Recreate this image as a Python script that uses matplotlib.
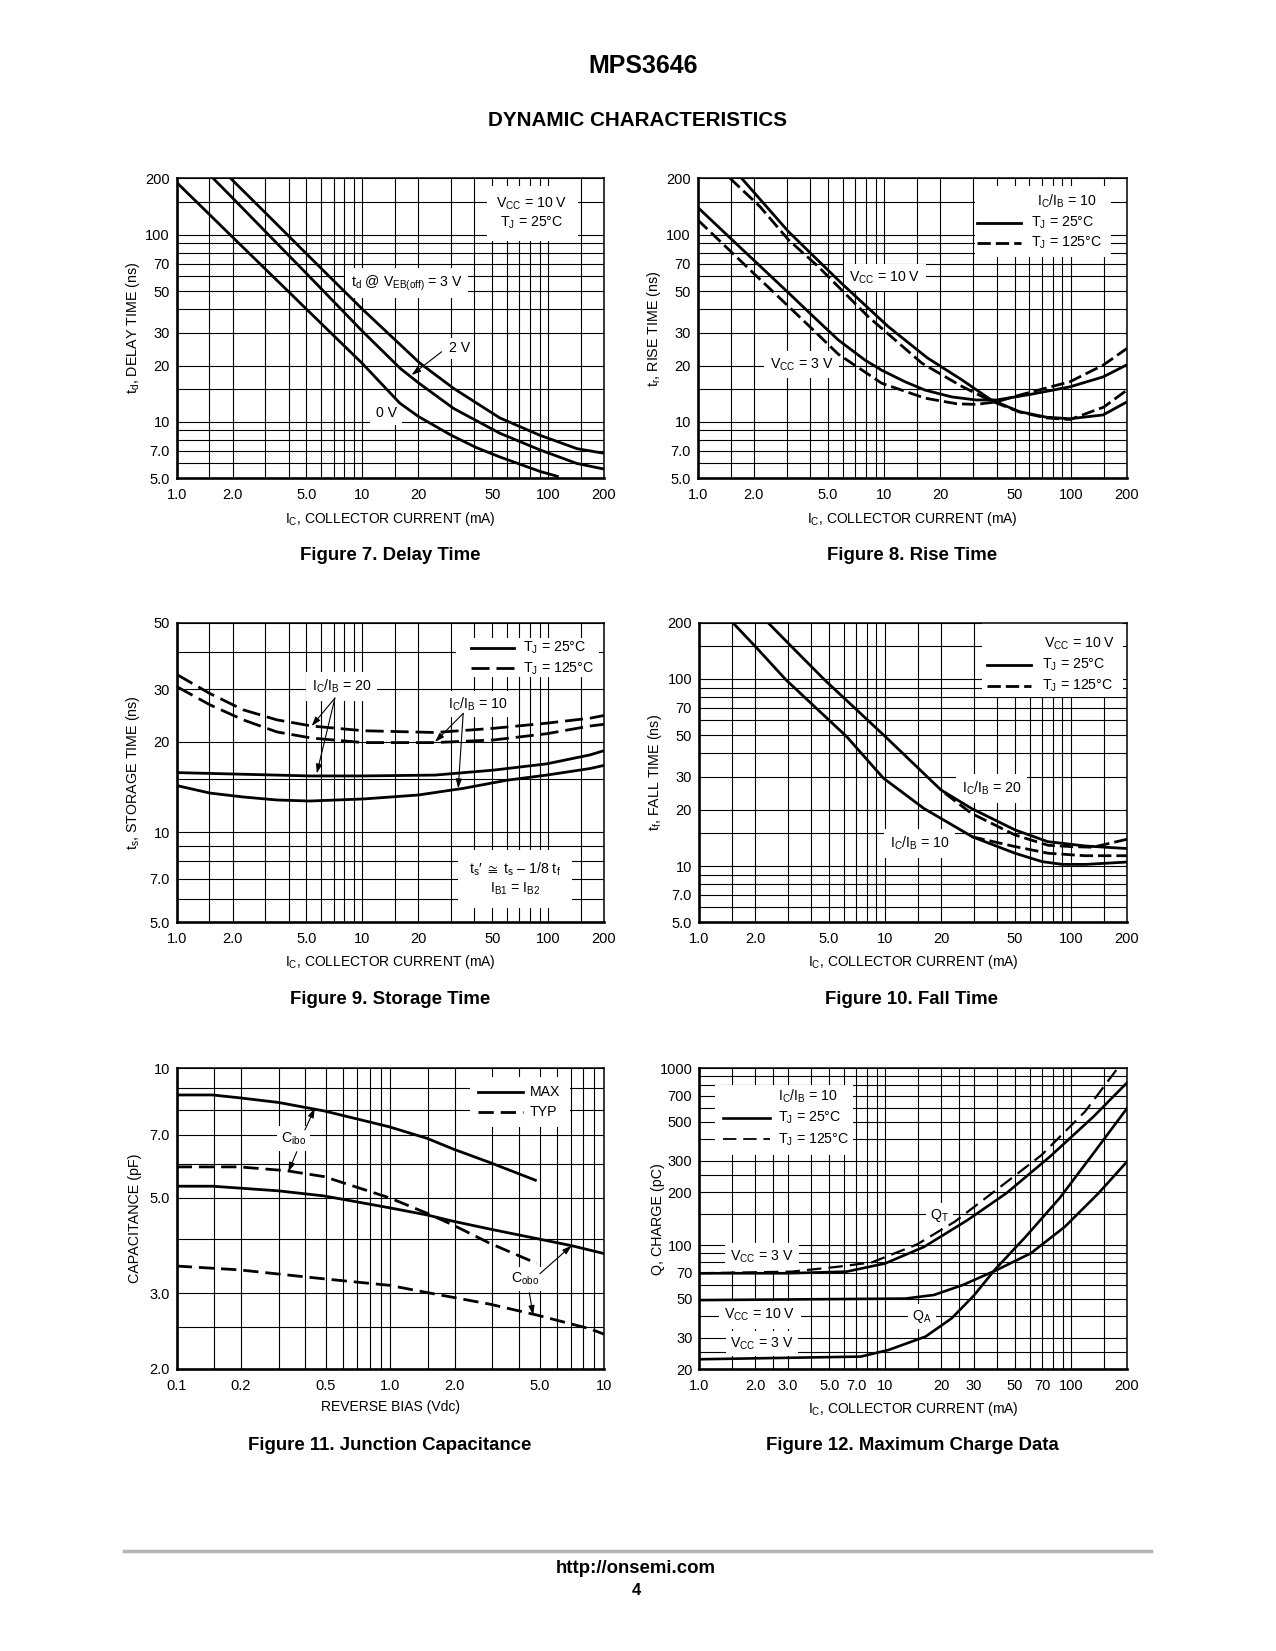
import matplotlib
matplotlib.use('Agg')
import matplotlib.pyplot as plt
from matplotlib.ticker import FixedLocator, FixedFormatter, NullFormatter
from matplotlib.patches import Rectangle
from matplotlib.lines import Line2D

FONT = 'Liberation Sans'
plt.rcParams['font.family'] = [FONT, 'DejaVu Sans']
plt.rcParams['mathtext.fontset'] = 'custom'
plt.rcParams['mathtext.rm'] = FONT
plt.rcParams['mathtext.it'] = FONT
plt.rcParams['mathtext.bf'] = FONT + ':bold'
plt.rcParams['mathtext.default'] = 'regular'
plt.rcParams['mathtext.fallback'] = 'stixsans'

# Figure 7 - delay time
ic_td_0v = [1.0, 2.0, 5.0, 10, 15.9, 20, 30, 41, 55, 90, 114]
td_0v = [190, 97, 40, 20.5, 12.6, 10.7, 8.5, 7.3, 6.5, 5.45, 5.1]
ic_td_2v = [1.57, 2.0, 3.0, 5.0, 10, 16, 20, 31, 55, 90, 143, 200]
td_2v = [200, 157, 104, 62, 30.5, 19.3, 16.2, 11.8, 8.7, 7.1, 6.0, 5.6]
ic_td_3v = [1.95, 3.0, 5.0, 10, 20.4, 31, 55, 90, 143, 200]
td_3v = [200, 131, 79, 40, 20.6, 15.1, 10.5, 8.5, 7.2, 6.8]

# Figure 8 - rise time
ic_tr_10v_25 = [1.72, 3.06, 5.9, 10.5, 17, 26, 37, 53, 74, 99, 149, 200]
tr_10v_25 = [200, 104, 55, 32.3, 22, 16.8, 13.2, 11.35, 10.6, 10.4, 10.9, 12.8]
ic_tr_10v_125 = [1.49, 2.16, 3.06, 4.43, 8.2, 15.9, 26, 37, 53, 74, 99, 150, 200]
tr_10v_125 = [200, 141, 94, 67.5, 36.5, 20.6, 15.5, 13.0, 11.3, 10.5, 10.3, 12.0, 14.8]
ic_tr_3v_25 = [1.0, 1.5, 2.0, 3.06, 4.16, 5.67, 7.88, 9.68, 12.9, 16.5, 23, 31, 40, 60, 99, 149, 200]
tr_3v_25 = [140, 95.6, 73, 49, 36.6, 27.4, 21.4, 18.9, 16.4, 14.8, 13.6, 13.1, 13.1, 14.0, 15.4, 17.4, 20.2]
ic_tr_3v_125 = [1.0, 2.0, 3.06, 4.16, 5.67, 9.68, 16.5, 24.5, 31, 40, 53, 99, 149, 200]
tr_3v_125 = [120, 62, 41.5, 31, 23, 16.1, 13.4, 12.5, 12.4, 12.8, 13.9, 16.4, 20.1, 24.7]

# Figure 9 - storage time
ic_ts_125 = [1.0, 1.51, 2.28, 3.46, 5.33, 10.1, 24.6, 50.7, 98.3, 168, 200]
ts_20_125 = [33.6, 29.0, 25.6, 23.7, 22.6, 21.8, 21.5, 22.2, 23.1, 24.0, 24.5]
ts_10_125 = [30.6, 26.6, 23.7, 21.6, 20.6, 19.9, 19.9, 20.3, 21.3, 22.6, 22.9]
ic_ts_20_25 = [1.0, 2.28, 5.2, 10.1, 24.6, 50.7, 98.3, 168, 200]
ts_20_25 = [15.8, 15.6, 15.4, 15.4, 15.5, 16.1, 16.9, 18.1, 18.7]
ic_ts_10_25 = [1.0, 1.51, 2.28, 3.46, 5.2, 10.1, 20, 35, 60, 98.3, 168, 200]
ts_10_25 = [14.3, 13.5, 13.1, 12.8, 12.7, 12.9, 13.3, 14.0, 14.9, 15.5, 16.3, 16.7]

# Figure 10 - fall time
ic_tf_10_25 = [1.52, 2.05, 2.94, 6.22, 9.8, 16.2, 29.6, 50, 70, 90, 120, 200]
tf_10_25 = [200, 146, 98.8, 49.2, 29.5, 20.3, 14.3, 11.7, 10.55, 10.2, 10.2, 10.5]
ic_tf_20_25 = [2.35, 3.21, 4.74, 10.04, 20, 29.2, 50, 75, 119, 200]
tf_20_25 = [200, 146, 98.8, 49.2, 25.5, 20.3, 15.6, 13.5, 12.8, 12.4]
ic_tf_20_125 = [21, 29.2, 50, 75.5, 100, 131, 200]
tf_20_125 = [24.5, 19.1, 14.65, 12.9, 12.7, 12.6, 13.9]
ic_tf_10_125 = [29.2, 50, 75.5, 119, 200]
tf_10_125 = [14.35, 12.7, 11.7, 11.35, 11.35]

# Figure 11 - junction capacitance
vr_cibo_max = [0.1, 0.147, 0.196, 0.299, 0.49, 0.99, 1.49, 1.97, 2.92, 4.84]
c_cibo_max = [8.67, 8.67, 8.54, 8.33, 7.96, 7.31, 6.87, 6.49, 6.04, 5.48]
vr_cobo_max = [0.1, 0.147, 0.299, 0.49, 0.99, 1.49, 1.97, 2.92, 4.84, 7.05, 10]
c_cobo_max = [5.32, 5.32, 5.19, 5.05, 4.74, 4.56, 4.41, 4.23, 4.02, 3.87, 3.71]
vr_cibo_typ = [0.1, 0.196, 0.327, 0.49, 0.99, 1.49, 1.97, 2.92, 4.84]
c_cibo_typ = [5.9, 5.9, 5.78, 5.6, 5.0, 4.6, 4.32, 3.92, 3.52]
vr_cobo_typ = [0.1, 0.196, 0.49, 0.99, 1.49, 2.92, 4.84, 8.59, 10]
c_cobo_typ = [3.47, 3.4, 3.24, 3.13, 3.01, 2.83, 2.67, 2.48, 2.41]

# Figure 12 - maximum charge data
ic_qt_25 = [1.0, 3.0, 6.2, 10.0, 16.2, 27.8, 44.9, 77, 132, 200]
qt_25 = [69.5, 69.5, 71, 79, 98, 139, 197, 317, 533, 829]
ic_qt_125 = [1.0, 3.14, 5.6, 8.46, 14.8, 23.7, 44.1, 69.5, 119, 178]
qt_125 = [69.5, 71, 75.7, 80, 101, 136, 224, 324, 570, 1000]
ic_qa_10v = [1.0, 12.8, 18.3, 26.2, 39.8, 60.7, 92.4, 140.6, 200]
qa_10v = [49, 50, 52.4, 59.7, 72.5, 90.1, 127, 197, 297]
ic_qa_3v = [1.0, 7.4, 10.4, 16.5, 22.8, 30, 39, 57.1, 86.9, 132, 200]
qa_3v = [22.7, 23.5, 25.6, 30.5, 38.7, 52, 73, 112, 185, 331, 594]

# tick labels
ic_ticks = [1.0, 2.0, 5.0, 10, 20, 50, 100, 200]
ic_labels = ['1.0', '2.0', '5.0', '10', '20', '50', '100', '200']
t_ticks = [5, 7, 10, 20, 30, 50, 70, 100, 200]
t_labels = ['5.0', '7.0', '10', '20', '30', '50', '70', '100', '200']
ts_ticks = [5, 7, 10, 20, 30, 50]
ts_labels = ['5.0', '7.0', '10', '20', '30', '50']
vr_ticks = [0.1, 0.2, 0.5, 1.0, 2.0, 5.0, 10]
vr_labels = ['0.1', '0.2', '0.5', '1.0', '2.0', '5.0', '10']
c_ticks = [2, 3, 5, 7, 10]
c_labels = ['2.0', '3.0', '5.0', '7.0', '10']
q_ic_ticks = [1, 2, 3, 5, 7, 10, 20, 30, 50, 70, 100, 200]
q_ic_labels = ['1.0', '2.0', '3.0', '5.0', '7.0', '10', '20', '30', '50', '70', '100', '200']
q_ticks = [20, 30, 50, 70, 100, 200, 300, 500, 700, 1000]
q_labels = ['20', '30', '50', '70', '100', '200', '300', '500', '700', '1000']

W, H = 1276, 1651
fig = plt.figure(figsize=(12.76, 16.51), dpi=100)

M1 = [1, 1.5, 2, 3, 4, 5, 6, 7, 8, 9]
M2 = [1, 1.5, 2, 2.5, 3, 4, 5, 6, 7, 8, 9]
TXT = 10.2


def grid_vals(lo, hi, mant):
    out = []
    for e in range(-2, 4):
        for m in mant:
            v = round(m * 10.0 ** e, 6)
            if lo <= v <= hi:
                out.append(v)
    return out


def panel(l, t, r, b, xlim, ylim, xt, xtl, yt, ytl, xmant, ymant, xlabel, ylabel):
    ax = fig.add_axes([l / W, 1 - b / H, (r - l) / W, (b - t) / H])
    ax.set_xscale('log')
    ax.set_yscale('log')
    ax.set_xlim(xlim)
    ax.set_ylim(ylim)
    ax.xaxis.set_major_locator(FixedLocator(xt))
    ax.xaxis.set_major_formatter(FixedFormatter(xtl))
    ax.yaxis.set_major_locator(FixedLocator(yt))
    ax.yaxis.set_major_formatter(FixedFormatter(ytl))
    ax.xaxis.set_minor_locator(FixedLocator(grid_vals(xlim[0], xlim[1], xmant)))
    ax.yaxis.set_minor_locator(FixedLocator(grid_vals(ylim[0], ylim[1], ymant)))
    ax.xaxis.set_minor_formatter(NullFormatter())
    ax.yaxis.set_minor_formatter(NullFormatter())
    ax.grid(True, which='both', color='black', lw=0.8)
    ax.tick_params(which='both', length=0, labelsize=10.5)
    ax.tick_params(axis='x', pad=7)
    ax.tick_params(axis='y', pad=5)
    for s in ['left', 'bottom']:
        ax.spines[s].set_linewidth(1.9)
    for s in ['top', 'right']:
        ax.spines[s].set_linewidth(1.1)
    ax.set_xlabel(xlabel, fontsize=10)
    ax.xaxis.set_label_coords(0.5, -0.104)
    ax.set_ylabel(ylabel, fontsize=10.3)
    ax.yaxis.set_label_coords(-0.081, 0.5)
    return ax


def note(ax, x, y, s, pad=2.5, ha='center'):
    ax.text(x, y, s, ha=ha, va='center', fontsize=TXT, zorder=3,
            bbox=dict(facecolor='white', edgecolor='none', pad=pad))


def arrow(ax, src, dst):
    ax.annotate('', xy=dst, xytext=src, zorder=5,
                arrowprops=dict(arrowstyle='-|>,head_length=0.55,head_width=0.18',
                                color='black', lw=0.8, shrinkA=0, shrinkB=0))


def white_box(ax, x0, x1, y0, y1):
    ax.add_patch(Rectangle((x0, y0), x1 - x0, y1 - y0, facecolor='white',
                           edgecolor='none', zorder=2.5))


def caption(x, y, s):
    fig.text(x / W, 1 - y / H, s, ha='center', va='center', fontsize=13.4,
             fontweight='bold', family=FONT)


SOLID = dict(color='black', lw=2.0, solid_capstyle='butt', zorder=4)
DASH = dict(color='black', lw=2.0, ls=(0, (4.8, 1.8)), zorder=4)
ic_label = 'I$_C$, COLLECTOR CURRENT (mA)'

# ---------- Figure 7
ax = panel(176.7, 178.3, 604, 478.3, (1, 200), (5, 200), ic_ticks, ic_labels, t_ticks, t_labels,
           M1, M1, ic_label, 't$_d$, DELAY TIME (ns)')
ax.plot(ic_td_0v, td_0v, **SOLID)
ax.plot(ic_td_2v, td_2v, **SOLID)
ax.plot(ic_td_3v, td_3v, **SOLID)
note(ax, 82, 130, 'V$_{CC}$ = 10 V\nT$_J$ = 25°C', pad=7)
note(ax, 17.3, 55, 't$_d$ @ V$_{EB(off)}$ = 3 V', pad=4)
note(ax, 33.5, 24.8, '2 V')
arrow(ax, (26.7, 23.7), (18.4, 17.8))
note(ax, 13.4, 11.2, '0 V', pad=4)
caption(390, 555, 'Figure 7. Delay Time')

# ---------- Figure 8
ax = panel(697.7, 178.3, 1127, 478.3, (1, 200), (5, 200), ic_ticks, ic_labels, t_ticks, t_labels,
           M1, M1, ic_label, 't$_r$, RISE TIME (ns)')
ax.plot(ic_tr_10v_25, tr_10v_25, **SOLID)
ax.plot(ic_tr_10v_125, tr_10v_125, **DASH)
ax.plot(ic_tr_3v_25, tr_3v_25, **SOLID)
ax.plot(ic_tr_3v_125, tr_3v_125, **DASH)
note(ax, 10.07, 59.2, 'V$_{CC}$ = 10 V', pad=4)
note(ax, 3.61, 20.2, 'V$_{CC}$ = 3 V', pad=4)
white_box(ax, 30.6, 165, 76, 181)
ax.text(65.6, 150, 'I$_C$/I$_B$ = 10', ha='left', va='center', fontsize=TXT, zorder=3)
ax.plot([31.4, 54], [115.9, 115.9], color='black', lw=2.0, zorder=3)
ax.plot([31.4, 54], [90.6, 90.6], color='black', lw=2.0, ls=(0, (4.8, 1.8)), zorder=3)
ax.text(61.1, 115.9, 'T$_J$ = 25°C', ha='left', va='center', fontsize=TXT, zorder=3)
ax.text(61.1, 90.6, 'T$_J$ = 125°C', ha='left', va='center', fontsize=TXT, zorder=3)
caption(912, 555, 'Figure 8. Rise Time')

# ---------- Figure 9
ax = panel(176.7, 622.7, 604, 922.3, (1, 200), (5, 50), ic_ticks, ic_labels, ts_ticks, ts_labels,
           M1, M1, ic_label, 't$_s$, STORAGE TIME (ns)')
DASH9 = dict(color='black', lw=2.0, ls=(0, (6.5, 2.5)), zorder=4)
ax.plot(ic_ts_125, ts_20_125, **DASH9)
ax.plot(ic_ts_125, ts_10_125, **DASH9)
ax.plot(ic_ts_20_25, ts_20_25, **SOLID)
ax.plot(ic_ts_10_25, ts_10_25, **SOLID)
white_box(ax, 31.9, 188, 32.9, 44.4)
ax.plot([38.4, 65.9], [41.1, 41.1], color='black', lw=2.0, zorder=3)
ax.plot([38.4, 65.9], [35.2, 35.2], color='black', lw=2.0, ls=(0, (6.5, 2.5)), zorder=3)
ax.text(73.5, 41.1, 'T$_J$ = 25°C', ha='left', va='center', fontsize=TXT, zorder=3)
ax.text(73.5, 35.2, 'T$_J$ = 125°C', ha='left', va='center', fontsize=TXT, zorder=3)
note(ax, 7.74, 30.6, 'I$_C$/I$_B$ = 20', pad=4)
arrow(ax, (7.11, 28.0), (5.33, 22.6))
arrow(ax, (7.11, 28.0), (5.68, 15.7))
note(ax, 42.1, 26.8, 'I$_C$/I$_B$ = 10', pad=3)
arrow(ax, (34.9, 24.9), (24.6, 20.0))
arrow(ax, (34.9, 24.9), (32.8, 14.0))
note(ax, 66.3, 6.98, 't$_s$′ $\\cong$ t$_s$ – 1/8 t$_f$\nI$_{B1}$ = I$_{B2}$', pad=8)
caption(390, 999, 'Figure 9. Storage Time')

# ---------- Figure 10
ax = panel(699, 622.7, 1127, 922.3, (1, 200), (5, 200), ic_ticks, ic_labels, t_ticks, t_labels,
           M1, M1, ic_label, 't$_f$, FALL TIME (ns)')
ax.plot(ic_tf_10_25, tf_10_25, **SOLID)
ax.plot(ic_tf_20_25, tf_20_25, **SOLID)
ax.plot(ic_tf_20_125, tf_20_125, **DASH)
ax.plot(ic_tf_10_125, tf_10_125, **DASH)
white_box(ax, 33.3, 190, 80, 200)
ax.text(174, 155, 'V$_{CC}$ = 10 V', ha='right', va='center', fontsize=TXT, zorder=3)
ax.plot([35.3, 61], [118.8, 118.8], color='black', lw=2.0, zorder=3)
ax.plot([35.3, 61], [91.7, 91.7], color='black', lw=2.0, ls=(0, (4.8, 1.8)), zorder=3)
ax.text(69.8, 118.8, 'T$_J$ = 25°C', ha='left', va='center', fontsize=TXT, zorder=3)
ax.text(69.8, 91.7, 'T$_J$ = 125°C', ha='left', va='center', fontsize=TXT, zorder=3)
note(ax, 37.5, 26, 'I$_C$/I$_B$ = 20', pad=4)
note(ax, 15.4, 13.2, 'I$_C$/I$_B$ = 10', pad=4)
caption(912, 999, 'Figure 10. Fall Time')

# ---------- Figure 11
ax = panel(176.7, 1068.3, 604, 1369, (0.1, 10), (2, 10), vr_ticks, vr_labels, c_ticks, c_labels,
           M1, [1, 2, 2.5, 3, 4, 5, 6, 7, 8, 9], 'REVERSE BIAS (Vdc)', 'CAPACITANCE (pF)')
DASH11 = dict(color='black', lw=2.0, ls=(0, (5.5, 2.5)), zorder=4)
ax.plot(vr_cibo_max, c_cibo_max, **SOLID)
ax.plot(vr_cobo_max, c_cobo_max, **SOLID)
ax.plot(vr_cibo_typ, c_cibo_typ, **DASH11)
ax.plot(vr_cobo_typ, c_cobo_typ, **DASH11)
white_box(ax, 2.36, 6.9, 7.3, 9.54)
ax.plot([2.57, 4.17], [8.8, 8.8], color='black', lw=2.0, zorder=3)
ax.plot([2.57, 4.17], [7.9, 7.9], color='black', lw=2.0, ls=(0, (5.5, 2.5)), zorder=3)
ax.text(4.5, 8.8, 'MAX', ha='left', va='center', fontsize=TXT, zorder=3)
ax.text(4.5, 7.9, 'TYP', ha='left', va='center', fontsize=TXT, zorder=3)
note(ax, 0.351, 6.87, 'C$_{ibo}$', pad=3)
arrow(ax, (0.398, 7.19), (0.443, 8.07))
arrow(ax, (0.365, 6.4), (0.333, 5.75))
note(ax, 4.27, 3.24, 'C$_{obo}$', pad=3)
arrow(ax, (5.01, 3.33), (7.05, 3.87))
arrow(ax, (4.47, 3.01), (4.66, 2.67))
caption(390, 1445, 'Figure 11. Junction Capacitance')

# ---------- Figure 12
ax = panel(699.3, 1068.3, 1127, 1369, (1, 200), (20, 1000), q_ic_ticks, q_ic_labels, q_ticks, q_labels,
           M2, M2, ic_label, 'Q, CHARGE (pC)')
SOLID12 = dict(color='black', lw=1.9, zorder=4)
DASH12 = dict(color='black', lw=1.6, ls=(0, (6.5, 3.2)), zorder=4)
ax.plot(ic_qt_25, qt_25, **SOLID12)
ax.plot(ic_qt_125, qt_125, **DASH12)
ax.plot(ic_qa_10v, qa_10v, **SOLID12)
ax.plot(ic_qa_3v, qa_3v, **SOLID12)
white_box(ax, 1.21, 6.71, 324, 804)
ax.text(2.65, 691, 'I$_C$/I$_B$ = 10', ha='left', va='center', fontsize=TXT, zorder=3)
ax.plot([1.34, 2.4], [522, 522], color='black', lw=1.9, zorder=3)
ax.plot([1.34, 2.4], [397, 397], color='black', lw=1.3, ls=(0, (7.4, 3.8)), zorder=3)
ax.text(2.65, 522, 'T$_J$ = 25°C', ha='left', va='center', fontsize=TXT, zorder=3)
ax.text(2.65, 397, 'T$_J$ = 125°C', ha='left', va='center', fontsize=TXT, zorder=3)
note(ax, 2.17, 85.7, 'V$_{CC}$ = 3 V', pad=4)
note(ax, 19.7, 148, 'Q$_T$', pad=3)
note(ax, 2.12, 40.3, 'V$_{CC}$ = 10 V', pad=4)
note(ax, 15.7, 39.5, 'Q$_A$', pad=3)
note(ax, 2.17, 27.9, 'V$_{CC}$ = 3 V', pad=3)
caption(912, 1445, 'Figure 12. Maximum Charge Data')

# header / footer
fig.text(643 / W, 1 - 66 / H, 'MPS3646', ha='center', va='center', fontsize=18,
         fontweight='bold', family=FONT)
fig.text(637.5 / W, 1 - 121 / H, 'DYNAMIC CHARACTERISTICS', ha='center', va='center',
         fontsize=14.9, fontweight='bold', family=FONT)
fig.add_artist(Line2D([124 / W, 1151 / W], [1 - 1551 / H, 1 - 1551 / H], color='#b4b4b4', lw=2.5))
fig.text(636 / W, 1 - 1568 / H, 'http://onsemi.com', ha='center', va='center', fontsize=13.4,
         fontweight='bold', family=FONT)
fig.text(636 / W, 1 - 1590 / H, '4', ha='center', va='center', fontsize=12,
         fontweight='bold', family=FONT)

fig.savefig('out.png', dpi=100)
